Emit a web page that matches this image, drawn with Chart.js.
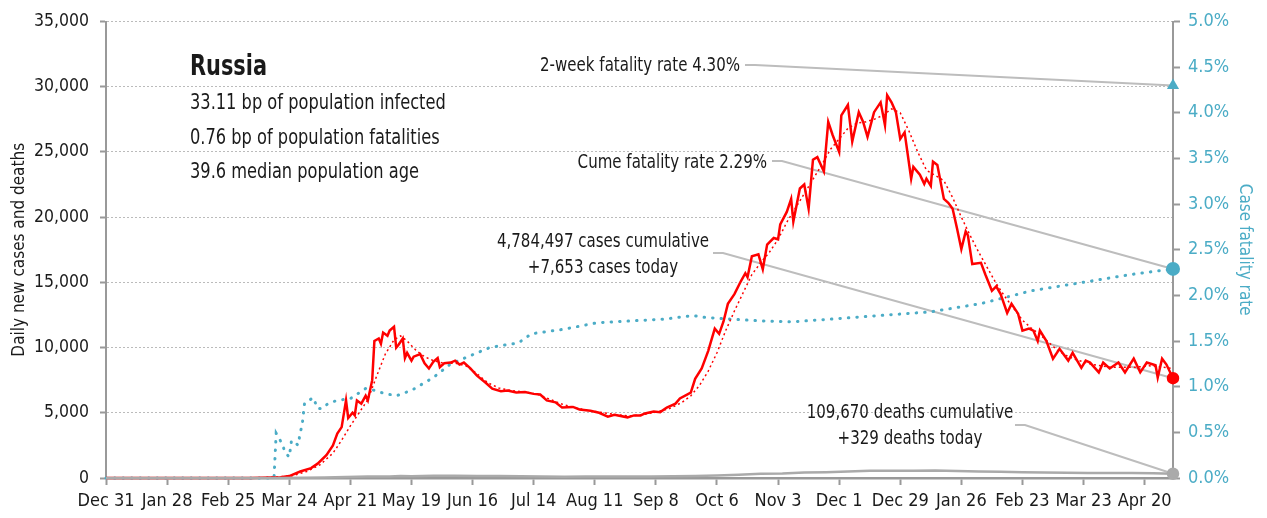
<!DOCTYPE html>
<html>
<head>
<meta charset="utf-8">
<script src="https://cdn.jsdelivr.net/npm/chart.js@4.4.1/dist/chart.umd.min.js"></script>
<style>
  html, body { margin: 0; padding: 0; background: #fff; }
  canvas { display: block; }
</style>
</head>
<body>
<canvas id="covidChart" width="1267" height="518"></canvas>
<script>
// Russia: daily cases, 7-day average, deaths and case fatality rate
// x values are days since Dec 31, 2019

const tickLabels = ['Dec 31', 'Jan 28', 'Feb 25', 'Mar 24', 'Apr 21', 'May 19', 'Jun 16', 'Jul 14', 'Aug 11',
    'Sep 8', 'Oct 6', 'Nov 3', 'Dec 1', 'Dec 29', 'Jan 26', 'Feb 23', 'Mar 23', 'Apr 20'];

const caseDays = [0, 60, 66, 75, 80, 84, 89, 94, 97, 101, 104, 106, 108, 110, 111, 113, 114, 115, 117, 119, 120,
    122, 123, 125, 126, 127, 129, 130, 132, 133, 134, 136, 137, 138, 140, 141, 144, 146, 148, 150, 152, 153, 155,
    158, 160, 162, 164, 167, 170, 174, 177, 181, 184, 188, 192, 196, 199, 202, 206, 209, 214, 217, 222, 226, 230,
    233, 239, 242, 245, 247, 251, 254, 257, 261, 263, 268, 270, 273, 276, 279, 281, 283, 285, 288, 291, 293, 294,
    296, 299, 301, 303, 306, 308, 309, 312, 314, 315, 318, 320, 322, 324, 326, 329, 331, 333, 336, 337, 340, 342,
    345, 347, 349, 352, 355, 357, 358, 360, 362, 364, 366, 369, 370, 373, 375, 376, 378, 379, 381, 384, 386, 388,
    390, 392, 394, 395, 397, 401, 403, 406, 408, 410, 413, 415, 418, 420, 423, 425, 427, 428, 431, 434, 437, 441,
    443, 447, 449, 451, 455, 457, 460, 464, 467, 471, 474, 477, 481, 482, 484, 486, 489];
const dailyCases = [0, 0, 5, 30, 60, 150, 500, 760, 1100, 1750, 2500, 3400, 3900, 5950, 4600, 5000, 4800, 5950,
    5700, 6300, 5950, 7500, 10500, 10700, 10300, 11150, 10900, 11300, 11600, 10000, 10200, 10700, 9200, 9600, 9000,
    9300, 9500, 8800, 8400, 8900, 9200, 8500, 8800, 8850, 9000, 8700, 8850, 8400, 7850, 7300, 6850, 6650, 6700,
    6550, 6600, 6450, 6400, 5950, 5800, 5400, 5450, 5250, 5150, 5000, 4700, 4850, 4650, 4800, 4800, 4950, 5100,
    5050, 5400, 5700, 6100, 6550, 7600, 8400, 9750, 11450, 11050, 12000, 13350, 14100, 15100, 15700, 15400, 17000,
    17150, 16000, 17900, 18400, 18300, 19450, 20400, 21400, 19650, 22200, 22500, 20650, 24400, 24600, 23500, 27300,
    26300, 25000, 27800, 28600, 25800, 28050, 27300, 26150, 28050, 28800, 27050, 29350, 28800, 28050, 26000, 26500,
    22950, 23850, 23250, 22550, 22950, 22400, 24250, 24000, 21400, 21100, 20650, 19150, 17550, 18900, 18600, 16400,
    16500, 15600, 14350, 14700, 14100, 12650, 13350, 12600, 11300, 11450, 11300, 10500, 11300, 10500, 9150, 9900,
    9000, 9600, 8450, 9000, 8850, 8100, 8850, 8400, 8850, 8100, 9150, 8100, 8850, 8650, 7700, 9150, 8700, 7653];

const avgDays = [0, 70, 85, 92, 98, 104, 108, 112, 116, 120, 124, 128, 132, 135, 138, 142, 146, 150, 155, 160,
    165, 170, 175, 180, 186, 192, 198, 204, 210, 216, 222, 228, 234, 240, 246, 252, 258, 264, 268, 272, 276, 280,
    284, 288, 292, 296, 300, 304, 308, 312, 316, 320, 324, 328, 332, 336, 340, 344, 348, 352, 356, 360, 364, 368,
    372, 376, 380, 384, 388, 392, 396, 400, 404, 408, 412, 416, 420, 424, 428, 432, 436, 440, 444, 448, 452, 456,
    460, 466, 472, 478, 484, 489];
const avgCases = [0, 10, 150, 500, 1000, 1900, 2900, 4000, 5000, 6000, 7800, 9500, 10600, 10900, 10500, 9800,
    9300, 9000, 8800, 8800, 8600, 8000, 7300, 6900, 6700, 6600, 6400, 6000, 5600, 5350, 5150, 5000, 4850, 4750,
    4850, 5050, 5300, 5800, 6300, 7100, 8200, 9600, 11300, 12800, 14200, 15600, 16500, 17300, 18300, 19600, 20700,
    21800, 22900, 24000, 25200, 26000, 26800, 27200, 27300, 27500, 27800, 28300, 28000, 26600, 25000, 23600, 23200,
    22800, 21500, 20000, 18600, 17300, 16100, 14900, 13900, 13000, 12100, 11500, 11000, 10400, 9800, 9400, 9100,
    8900, 8700, 8600, 8500, 8500, 8500, 8600, 8500, 8400];

const deathDays = [0, 80, 90, 100, 110, 120, 130, 135, 140, 150, 160, 170, 180, 190, 200, 210, 220, 230, 240,
    250, 260, 270, 280, 290, 300, 310, 320, 330, 340, 350, 360, 370, 380, 390, 400, 410, 420, 430, 440, 450, 460,
    470, 480, 489];
const dailyDeaths = [0, 0, 10, 40, 80, 110, 120, 150, 130, 170, 180, 160, 150, 140, 120, 100, 110, 110, 110, 120,
    130, 160, 200, 250, 320, 350, 420, 450, 500, 560, 560, 550, 580, 530, 500, 480, 450, 430, 400, 380, 390, 380,
    370, 329];

const rateDays = [0, 77, 78, 79, 81, 82, 84, 85, 87, 88, 89, 90, 91, 93, 95, 97, 99, 102, 106, 112, 119, 123,
    127, 133, 140, 150, 158, 164, 176, 189, 195, 204, 210, 225, 240, 256, 269, 274, 286, 301, 314, 332, 355, 378,
    401, 424, 447, 470, 489];
const fatalityRate = [0, 0, 0.49, 0.45, 0.36, 0.28, 0.23, 0.41, 0.38, 0.36, 0.49, 0.6, 0.82, 0.85, 0.88, 0.76,
    0.76, 0.82, 0.85, 0.87, 0.98, 0.96, 0.93, 0.9, 0.96, 1.1, 1.25, 1.31, 1.43, 1.48, 1.58, 1.61, 1.63, 1.70, 1.72,
    1.74, 1.78, 1.76, 1.74, 1.72, 1.71, 1.74, 1.78, 1.82, 1.91, 2.05, 2.14, 2.23, 2.29];

const twoWeekRate = 4.30;
const totalCases = 4784497;
const totalDeaths = 109670;
const infectedBp = 33.11;
const fatalitiesBp = 0.76;
const medianAge = 39.6;

const FONT = "'DejaVu Sans Condensed', 'Liberation Sans Narrow', Roboto, sans-serif";
const RED = '#ff0000';
const TEAL = '#4bacc6';
const GREY = '#aaaaaa';
const AXIS = '#999999';
const INK = '#1a1a1a';

const toPoints = (xs, ys) => xs.map((x, i) => ({ x, y: ys[i] }));
const lastOnly = (n, r) => ctx => (ctx.dataIndex === n - 1 ? r : 0);
const fmt = n => n.toLocaleString('en-US');

// narrow text: draw with a horizontal squeeze
function note(ctx, text, x, y, align, size, sx, weight = 'normal') {
    ctx.save();
    ctx.font = `${weight} ${size}px ${FONT}`;
    ctx.textAlign = align;
    ctx.textBaseline = 'middle';
    ctx.translate(x, y);
    ctx.scale(sx, 1);
    ctx.fillText(text, 0, 0);
    ctx.restore();
}

// leader lines and notes drawn on top of the plot
const calloutPlugin = {
    id: 'callouts',
    beforeDatasetsDraw(chart) {
        const { ctx, scales: { x, y, y1 } } = chart;
        const endX = x.getPixelForValue(caseDays[caseDays.length - 1]);
        const leaders = [
            [745, 65, endX, y1.getPixelForValue(twoWeekRate)],
            [772, 161, endX, y1.getPixelForValue(fatalityRate[fatalityRate.length - 1])],
            [713, 253, endX, y.getPixelForValue(dailyCases[dailyCases.length - 1])],
            [1015, 425, endX, y.getPixelForValue(dailyDeaths[dailyDeaths.length - 1])]
        ];
        ctx.save();
        ctx.strokeStyle = '#bdbdbd';
        ctx.lineWidth = 2;
        leaders.forEach(([x0, y0, x1, y1p]) => {
            ctx.beginPath();
            ctx.moveTo(x0, y0);
            ctx.lineTo(x0 + 10, y0);
            ctx.lineTo(x1, y1p);
            ctx.stroke();
        });
        ctx.restore();
    },
    afterDraw(chart) {
        const { ctx } = chart;
        ctx.save();
        ctx.fillStyle = INK;

        note(ctx, 'Russia', 190, 67, 'left', 29, 0.8, 'bold');
        note(ctx, `${infectedBp.toFixed(2)} bp of population infected`, 190, 104, 'left', 20.5, 0.88);
        note(ctx, `${fatalitiesBp.toFixed(2)} bp of population fatalities`, 190, 139, 'left', 20.5, 0.88);
        note(ctx, `${medianAge.toFixed(1)} median population age`, 190, 173, 'left', 20.5, 0.88);

        note(ctx, `2-week fatality rate ${twoWeekRate.toFixed(2)}%`, 740, 66, 'right', 19, 0.88);
        note(ctx, `Cume fatality rate ${fatalityRate[fatalityRate.length - 1].toFixed(2)}%`, 767, 163, 'right', 19, 0.88);

        note(ctx, `${fmt(totalCases)} cases cumulative`, 603, 242, 'center', 19, 0.88);
        note(ctx, `+${fmt(dailyCases[dailyCases.length - 1])} cases today`, 603, 268, 'center', 19, 0.88);
        note(ctx, `${fmt(totalDeaths)} deaths cumulative`, 910, 413, 'center', 19, 0.88);
        note(ctx, `+${fmt(dailyDeaths[dailyDeaths.length - 1])} deaths today`, 910, 439, 'center', 19, 0.88);
        ctx.restore();
    }
};

const chart = new Chart(document.getElementById('covidChart'), {
    type: 'line',
    data: {
        datasets: [
            {
                label: 'Deaths',
                data: toPoints(deathDays, dailyDeaths),
                yAxisID: 'y',
                borderColor: GREY,
                backgroundColor: GREY,
                borderWidth: 2.5,
                pointRadius: lastOnly(deathDays.length, 5),
                clip: false
            },
            {
                label: '7-day average',
                data: toPoints(avgDays, avgCases),
                yAxisID: 'y',
                borderColor: RED,
                borderWidth: 1.5,
                borderDash: [2, 3],
                pointRadius: 0
            },
            {
                label: 'Daily new cases',
                data: toPoints(caseDays, dailyCases),
                yAxisID: 'y',
                borderColor: RED,
                backgroundColor: RED,
                borderWidth: 2.5,
                pointRadius: lastOnly(caseDays.length, 5),
                clip: false
            },
            {
                label: 'Case fatality rate',
                data: toPoints(rateDays, fatalityRate),
                yAxisID: 'y1',
                borderColor: TEAL,
                backgroundColor: TEAL,
                borderWidth: 3,
                borderDash: [0.5, 8],
                borderCapStyle: 'round',
                pointRadius: lastOnly(rateDays.length, 5.5),
                clip: false
            },
            {
                label: '2-week fatality rate',
                data: [{ x: caseDays[caseDays.length - 1], y: twoWeekRate }],
                yAxisID: 'y1',
                showLine: false,
                pointStyle: 'triangle',
                pointRadius: 7,
                backgroundColor: TEAL,
                borderColor: TEAL,
                clip: false
            }
        ]
    },
    options: {
        responsive: false,
        animation: false,
        events: [],
        layout: { padding: { top: 19, left: 0, right: 0, bottom: 0 } },
        elements: { line: { tension: 0 }, point: { borderWidth: 0 } },
        plugins: { legend: { display: false }, tooltip: { enabled: false } },
        scales: {
            x: {
                type: 'linear',
                min: 0,
                max: caseDays[caseDays.length - 1],
                afterBuildTicks: scale => {
                    scale.ticks = tickLabels.map((_, i) => ({ value: i * 28 }));
                },
                afterFit: scale => { scale.height = 40; },
                ticks: {
                    callback: (value, index) => tickLabels[index],
                    autoSkip: false,
                    maxRotation: 0,
                    color: INK,
                    font: { family: FONT, size: 18 },
                    padding: 6
                },
                grid: { drawOnChartArea: false, drawTicks: true, tickLength: 7, tickColor: AXIS, tickWidth: 2 },
                border: { color: AXIS, width: 2.5 }
            },
            y: {
                position: 'left',
                min: 0,
                max: 35000,
                afterFit: scale => { scale.width = 106; },
                ticks: {
                    stepSize: 5000,
                    callback: v => fmt(v),
                    color: INK,
                    font: { family: FONT, size: 17.5 },
                    padding: 11
                },
                title: {
                    display: true,
                    text: 'Daily new cases and deaths',
                    color: INK,
                    font: { family: FONT, size: 17 },
                    padding: { top: 9, bottom: 0 }
                },
                grid: { color: '#bbbbbb', lineWidth: 1, tickLength: 6, tickColor: AXIS, tickWidth: 2, tickBorderDash: [] },
                border: { color: AXIS, width: 2, dash: [2, 2] }
            },
            y1: {
                position: 'right',
                min: 0,
                max: 5,
                afterFit: scale => { scale.width = 94; },
                ticks: {
                    stepSize: 0.5,
                    callback: v => v.toFixed(1) + '%',
                    color: TEAL,
                    font: { family: FONT, size: 18 },
                    padding: 8
                },
                title: {
                    display: true,
                    text: 'Case fatality rate',
                    color: TEAL,
                    font: { family: FONT, size: 17 },
                    padding: { top: 12, bottom: 0 }
                },
                grid: { drawOnChartArea: false, tickLength: 7, tickColor: AXIS, tickWidth: 2 },
                border: { color: AXIS, width: 2 }
            }
        }
    },
    plugins: [calloutPlugin]
});
</script>
</body>
</html>
